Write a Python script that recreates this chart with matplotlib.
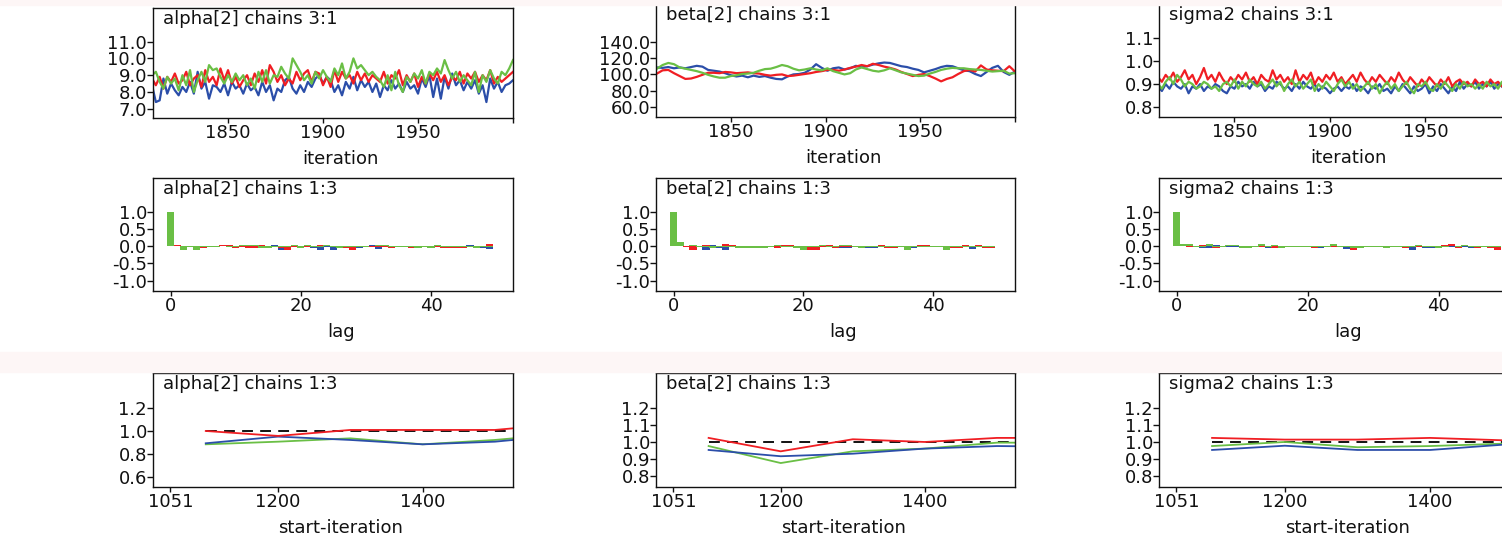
import matplotlib
matplotlib.use("Agg")
import matplotlib.pyplot as plt
from matplotlib.patches import Rectangle
import numpy as np

# colours of the three chains (WinBUGS style)
BLUE = "#2b4ea9"
RED = "#f01e23"
GREEN = "#6abf45"
PINK = "#fdf6f6"
INK = "#111111"

# ---------------- trace data (iterations 1810..2000) ----------------
iter_step2 = np.arange(1810, 2001, 2)
iter_step3 = np.arange(1811, 2001, 3)

alpha_blue = [8.4, 7.4, 7.5, 8.8, 7.9, 8.5, 8.1, 7.8, 8.3, 8.0, 8.6, 7.9,
              9.2, 8.2, 8.6, 7.6, 8.4, 8.3, 8.0, 8.5, 7.8, 8.6, 8.2, 8.4,
              7.9, 8.5, 8.1, 8.3, 7.8, 8.6, 8.0, 8.4, 7.5, 8.2, 8.0, 8.7,
              8.9, 8.2, 7.9, 8.4, 8.0, 8.6, 8.3, 8.8, 9.0, 8.5, 8.9, 8.7,
              8.0, 8.4, 7.8, 8.6, 8.2, 8.9, 8.1, 8.7, 8.3, 8.6, 8.0, 8.5,
              7.7, 8.4, 8.1, 8.7, 8.2, 8.5, 8.0, 8.6, 8.2, 8.4, 7.9, 8.8,
              8.3, 9.0, 7.7, 8.8, 7.6, 8.9, 8.2, 9.1, 8.4, 8.7, 8.1, 8.6,
              8.2, 8.7, 7.9, 8.4, 7.4, 8.8, 8.2, 8.6, 8.0, 8.4, 8.5, 8.7]
alpha_red = [8.8, 8.4, 8.9, 8.2, 8.9, 8.6, 9.1, 8.5, 8.7, 9.2, 8.4, 8.8,
             9.0, 8.3, 9.3, 8.6, 8.9, 8.4, 9.4, 8.7, 9.3, 8.5, 8.9, 8.3,
             8.7, 9.0, 8.4, 9.1, 8.6, 9.3, 8.5, 9.6, 9.2, 8.6, 9.0, 8.4,
             8.8, 8.5, 9.2, 8.7, 9.1, 9.3, 8.6, 9.2, 9.1, 8.4, 8.9, 8.3,
             9.3, 8.6, 9.2, 8.8, 9.0, 8.5, 9.2, 8.7, 9.1, 8.6, 9.0, 8.8,
             8.6, 9.2, 8.5, 9.0, 8.8, 9.3, 8.4, 9.0, 8.6, 9.1, 8.3, 8.9,
             8.5, 9.1, 8.7, 9.2, 8.6, 9.0, 8.4, 8.9, 8.7, 9.2, 8.5, 9.1,
             8.8, 9.2, 8.6, 9.0, 8.7, 9.3, 8.5, 8.9, 8.6, 8.8, 9.0, 9.2]
alpha_green = [9.0, 9.2, 8.6, 8.2, 8.9, 8.5, 8.8, 8.1, 9.0, 8.4, 9.3, 8.0,
               8.7, 9.2, 8.6, 9.6, 9.3, 9.4, 8.9, 8.5, 9.0, 8.6, 9.1, 8.7,
               9.0, 8.4, 8.8, 8.2, 9.2, 8.6, 9.3, 8.5, 9.0, 8.9, 9.5, 9.1,
               8.8, 10.0, 9.6, 9.2, 8.7, 9.0, 8.5, 9.2, 8.8, 9.3, 8.9, 8.6,
               9.4, 9.0, 9.7, 8.8, 9.2, 10.0, 9.4, 9.6, 9.3, 9.0, 9.2, 8.9,
               8.7, 8.3, 9.0, 8.1, 9.2, 8.4, 8.0, 8.9, 8.6, 9.1, 8.8, 9.3,
               8.5, 9.2, 9.0, 9.4, 9.1, 9.9, 9.3, 8.8, 9.2, 8.6, 9.0, 8.7,
               8.4, 9.2, 8.0, 9.0, 8.6, 9.3, 8.8, 8.5, 9.2, 9.0, 9.4, 9.9]

beta_blue = [108.5, 108.0, 109.0, 107.5, 108.5, 107.5, 109.0, 110.5, 109.5, 105.5,
             104.5, 103.5, 101.5, 99.0, 97.5, 98.5, 96.5, 98.5, 97.0, 98.0,
             96.0, 94.5, 94.0, 97.5, 100.0, 100.5, 102.0, 106.0, 112.5, 108.0,
             104.5, 107.5, 108.5, 106.0, 107.5, 110.5, 109.0, 110.0, 112.0, 113.5,
             114.5, 114.0, 112.0, 110.0, 109.0, 107.0, 105.5, 102.5, 104.5, 106.5,
             109.0, 110.5, 110.0, 107.5, 105.0, 104.0, 100.5, 98.0, 103.0, 108.0,
             110.5, 103.0, 99.5, 103.5]
beta_red = [101.0, 105.0, 105.5, 101.5, 98.0, 94.5, 95.0, 97.0, 99.5, 102.0,
            102.0, 101.5, 103.0, 102.5, 101.5, 102.0, 102.5, 101.5, 101.0, 99.5,
            98.5, 99.5, 100.0, 98.0, 98.5, 99.5, 100.5, 101.5, 103.0, 104.0,
            105.5, 105.5, 104.5, 106.0, 108.0, 109.5, 111.5, 110.0, 113.0, 111.5,
            109.5, 108.0, 106.0, 103.0, 100.5, 98.0, 99.5, 100.5, 98.0, 95.0,
            91.5, 94.5, 96.5, 100.5, 104.0, 105.5, 103.5, 111.0, 106.0, 105.0,
            104.5, 104.0, 110.0, 103.5]
beta_green = [107.0, 111.5, 114.0, 112.5, 108.5, 107.0, 105.5, 104.0, 102.0, 99.5,
              97.5, 96.0, 96.0, 98.0, 99.0, 100.5, 101.0, 102.0, 104.5, 106.5,
              107.0, 109.0, 111.5, 110.0, 107.0, 105.0, 106.0, 107.5, 106.0, 105.0,
              107.5, 104.0, 102.0, 100.0, 101.5, 106.0, 108.5, 106.5, 104.5, 103.5,
              105.0, 107.5, 105.0, 102.5, 101.0, 99.5, 98.0, 98.5, 101.0, 103.0,
              105.5, 107.0, 108.0, 107.5, 107.5, 106.5, 106.0, 105.5, 104.5, 103.5,
              104.0, 104.5, 101.0, 101.5]

sigma_red = [0.93, 0.91, 0.94, 0.92, 0.95, 0.91, 0.93, 0.96, 0.92, 0.94, 0.90, 0.93,
             0.97, 0.92, 0.94, 0.91, 0.95, 0.92, 0.90, 0.93, 0.91, 0.94, 0.92, 0.95,
             0.91, 0.93, 0.90, 0.94, 0.92, 0.91, 0.96, 0.92, 0.94, 0.91, 0.93, 0.90,
             0.96, 0.91, 0.94, 0.92, 0.95, 0.90, 0.93, 0.91, 0.94, 0.92, 0.95, 0.91,
             0.93, 0.90, 0.92, 0.94, 0.91, 0.95, 0.92, 0.90, 0.93, 0.91, 0.94, 0.92,
             0.90, 0.93, 0.91, 0.95, 0.92, 0.90, 0.93, 0.91, 0.89, 0.92, 0.90, 0.93,
             0.91, 0.89, 0.92, 0.90, 0.93, 0.89, 0.91, 0.92, 0.90, 0.91, 0.89, 0.92,
             0.90, 0.91, 0.89, 0.92, 0.90, 0.91, 0.89, 0.92, 0.90, 0.91, 0.90, 0.90]
sigma_blue = [0.89, 0.87, 0.90, 0.88, 0.91, 0.89, 0.88, 0.90, 0.86, 0.89, 0.88, 0.90,
              0.87, 0.89, 0.88, 0.90, 0.89, 0.87, 0.86, 0.89, 0.88, 0.91, 0.89, 0.90,
              0.88, 0.91, 0.89, 0.90, 0.87, 0.89, 0.88, 0.91, 0.90, 0.88, 0.89, 0.87,
              0.90, 0.88, 0.91, 0.89, 0.88, 0.90, 0.87, 0.89, 0.88, 0.86, 0.88, 0.89,
              0.87, 0.89, 0.88, 0.90, 0.87, 0.89, 0.88, 0.86, 0.89, 0.88, 0.90, 0.87,
              0.88, 0.86, 0.89, 0.87, 0.90, 0.88, 0.86, 0.89, 0.87, 0.88, 0.90, 0.86,
              0.89, 0.87, 0.90, 0.88, 0.86, 0.89, 0.87, 0.91, 0.88, 0.90, 0.89, 0.91,
              0.88, 0.90, 0.89, 0.91, 0.88, 0.90, 0.89, 0.87, 0.90, 0.89, 0.91, 0.89]
sigma_green = [0.90, 0.88, 0.91, 0.93, 0.90, 0.94, 0.92, 0.89, 0.91, 0.90, 0.88, 0.89,
               0.91, 0.90, 0.88, 0.89, 0.87, 0.90, 0.91, 0.89, 0.92, 0.88, 0.91, 0.89,
               0.92, 0.90, 0.89, 0.91, 0.88, 0.90, 0.92, 0.89, 0.91, 0.87, 0.90, 0.92,
               0.89, 0.91, 0.88, 0.90, 0.92, 0.87, 0.90, 0.88, 0.91, 0.89, 0.87, 0.90,
               0.92, 0.89, 0.91, 0.88, 0.90, 0.87, 0.89, 0.91, 0.88, 0.90, 0.86, 0.89,
               0.91, 0.88, 0.90, 0.87, 0.89, 0.91, 0.88, 0.86, 0.90, 0.89, 0.91, 0.88,
               0.87, 0.90, 0.88, 0.91, 0.89, 0.87, 0.90, 0.88, 0.91, 0.89, 0.90, 0.88,
               0.90, 0.88, 0.91, 0.89, 0.90, 0.88, 0.91, 0.90, 0.89, 0.91, 0.88, 0.90]

# ---------------- autocorrelation (lags 0..49) ----------------
lags = np.arange(0, 50)

alpha_acf_blue = [1.0,
                  0.02, 0.02, 0.02, -0.03, -0.03, -0.02, 0.02, 0.01, 0.02, -0.02,
                  -0.03, -0.03, 0.02, -0.02, 0.02, 0.03, -0.10, -0.03, 0.02, 0.02,
                  -0.02, -0.04, -0.11, -0.02, -0.12, -0.03, -0.02, -0.02, -0.04, 0.01,
                  0.03, -0.07, 0.02, -0.03, -0.02, -0.03, -0.02, 0.01, -0.02, -0.03,
                  0.01, -0.03, -0.02, -0.03, -0.04, 0.03, -0.02, -0.06, -0.07]
alpha_acf_red = [1.0,
                 0.03, -0.03, 0.02, -0.02, -0.05, -0.02, -0.02, 0.03, 0.03, -0.04,
                 -0.02, -0.04, -0.04, 0.03, -0.02, -0.03, -0.05, -0.12, -0.02, -0.03,
                 -0.02, 0.02, 0.03, 0.02, -0.02, -0.03, -0.05, -0.12, -0.02, 0.02,
                 -0.02, -0.03, -0.02, -0.04, -0.03, -0.02, -0.04, -0.03, -0.02, -0.03,
                 -0.02, -0.04, -0.04, -0.04, -0.04, -0.02, -0.03, -0.03, 0.07]
alpha_acf_green = [1.0,
                   0.02, -0.10, -0.02, -0.12, -0.03, -0.03, -0.03, 0.02, -0.03, -0.02,
                   0.03, 0.03, 0.03, -0.04, -0.04, -0.02, -0.03, -0.02, 0.03, -0.06,
                   0.03, -0.03, -0.02, 0.03, -0.03, -0.04, -0.03, -0.02, -0.03, -0.02,
                   0.02, 0.03, 0.03, -0.02, -0.03, -0.03, -0.02, -0.04, -0.02, -0.04,
                   0.03, -0.02, -0.03, -0.02, -0.03, -0.03, -0.04, -0.03, -0.02]

beta_acf_blue = [1.0,
                 0.03, 0.02, -0.02, -0.03, -0.10, 0.03, -0.04, -0.10, 0.02, -0.03,
                 -0.02, -0.03, -0.03, -0.04, -0.03, -0.03, 0.03, -0.02, -0.03, -0.04,
                 -0.10, -0.05, -0.02, 0.03, -0.04, -0.05, -0.05, -0.02, -0.03, -0.05,
                 -0.05, -0.02, -0.03, -0.04, -0.02, -0.03, -0.05, -0.02, -0.03, -0.02,
                 -0.03, -0.02, -0.05, -0.05, -0.02, -0.07, 0.04, -0.02, -0.03]
beta_acf_red = [1.0,
                0.06, -0.02, -0.10, -0.02, 0.03, -0.02, -0.03, 0.07, 0.04, -0.04,
                -0.04, -0.04, -0.04, -0.04, -0.03, -0.04, 0.04, 0.04, -0.03, -0.03,
                -0.11, -0.11, -0.02, 0.03, -0.04, -0.03, -0.02, 0.02, -0.03, -0.03,
                -0.03, 0.04, -0.05, -0.05, -0.02, -0.03, -0.02, 0.04, 0.04, -0.03,
                -0.03, -0.02, -0.04, -0.04, 0.04, -0.03, 0.04, -0.05, -0.05]
beta_acf_green = [1.0,
                  0.13, 0.02, 0.03, -0.03, -0.02, -0.05, -0.03, -0.02, -0.03, -0.05,
                  -0.05, -0.05, -0.05, -0.05, -0.03, 0.04, -0.02, -0.03, -0.04, -0.10,
                  -0.03, -0.02, 0.03, -0.02, -0.02, 0.04, 0.04, -0.02, -0.05, -0.02,
                  -0.03, -0.02, -0.03, -0.02, -0.03, -0.12, -0.03, -0.02, -0.02, -0.03,
                  -0.03, -0.10, -0.02, -0.03, -0.02, -0.03, -0.02, -0.02, -0.03]

sigma_acf_blue = [1.0,
                  0.03, 0.03, 0.02, -0.05, -0.05, 0.03, -0.02, -0.03, -0.03, 0.02,
                  0.02, 0.02, 0.02, -0.05, -0.02, -0.03, 0.02, -0.02, -0.03, -0.02,
                  -0.04, -0.04, -0.02, -0.03, -0.03, -0.08, -0.03, -0.02, -0.03, -0.02,
                  0.02, -0.03, 0.02, 0.02, -0.03, -0.10, -0.02, -0.04, -0.04, -0.02,
                  -0.02, -0.03, 0.02, -0.02, -0.05, -0.03, 0.02, -0.02, -0.04]
sigma_acf_red = [1.0,
                 0.04, -0.02, -0.03, 0.03, 0.03, -0.04, -0.02, 0.02, 0.02, -0.02,
                 -0.02, -0.02, -0.02, -0.03, -0.05, -0.04, 0.02, -0.02, -0.03, -0.03,
                 -0.04, -0.02, -0.03, -0.02, -0.03, -0.03, -0.10, -0.03, -0.02, 0.02,
                 -0.02, -0.03, -0.02, -0.03, -0.05, -0.03, -0.02, -0.03, -0.02, -0.02,
                 0.03, 0.06, -0.04, 0.03, -0.03, -0.05, -0.02, -0.04, -0.10]
sigma_acf_green = [1.0,
                   0.05, 0.06, -0.02, -0.02, 0.05, -0.02, -0.03, 0.03, 0.03, -0.04,
                   -0.04, -0.02, 0.05, -0.02, 0.03, -0.04, -0.02, -0.03, -0.03, -0.03,
                   -0.02, -0.02, -0.02, 0.06, -0.02, -0.03, -0.04, -0.04, -0.02, -0.02,
                   -0.03, -0.05, -0.02, -0.02, -0.02, -0.03, 0.03, -0.02, -0.02, -0.04,
                   -0.02, 0.02, -0.02, 0.04, -0.02, -0.03, -0.02, -0.03, -0.02]

# ---------------- Brooks-Gelman-Rubin ----------------
bgr_iter = [1100, 1200, 1300, 1400, 1500, 1525]

alpha_bgr_red = [1.00, 0.957, 1.009, 1.009, 1.009, 1.023]
alpha_bgr_blue = [0.893, 0.951, 0.922, 0.884, 0.907, 0.922]
alpha_bgr_green = [0.884, 0.907, 0.936, 0.884, 0.922, 0.936]

beta_bgr_red = [1.024, 0.945, 1.016, 1.000, 1.024, 1.024]
beta_bgr_blue = [0.953, 0.916, 0.931, 0.961, 0.976, 0.975]
beta_bgr_green = [0.976, 0.876, 0.945, 0.961, 0.996, 0.996]

sigma_bgr_red = [1.024, 1.014, 1.014, 1.024, 1.010, 1.008]
sigma_bgr_blue = [0.953, 0.978, 0.953, 0.953, 0.984, 0.986]
sigma_bgr_green = [0.976, 1.000, 0.969, 0.976, 0.990, 0.992]

names = ["alpha[2]", "beta[2]", "sigma2"]

trace_ticks = [[7.0, 8.0, 9.0, 10.0, 11.0],
               [60.0, 80.0, 100.0, 120.0, 140.0],
               [0.8, 0.9, 1.0, 1.1]]
trace_ylim = [(6.45, 13.0), (48.0, 186.0), (0.757, 1.248)]
bgr_ticks = [[0.6, 0.8, 1.0, 1.2],
             [0.8, 0.9, 1.0, 1.1, 1.2],
             [0.8, 0.9, 1.0, 1.1, 1.2]]
bgr_ylim = [(0.513, 1.504), (0.735, 1.406), (0.735, 1.406)]
acf_ticks = [-1.0, -0.5, 0.0, 0.5, 1.0]

# ---------------- layout (pixels) ----------------
W, H = 1502, 536
fig = plt.figure(figsize=(W / 100, H / 100), dpi=100)
fig.patch.set_facecolor("white")
plt.rcParams["font.family"] = ["DejaVu Sans"]
FS = 13

fig.patches.append(Rectangle((0, 1 - 5 / H), 1, 5 / H, transform=fig.transFigure,
                             color=PINK, zorder=0))
fig.patches.append(Rectangle((0, 1 - 372 / H), 1, 20 / H, transform=fig.transFigure,
                             color=PINK, zorder=0))

lefts = [(153, 513), (656, 1015), (1159, 1521)]
row_tb = [[(8, 118), (4, 117), (4, 117)],
          [(178, 291), (178, 291), (178, 291)],
          [(373, 487), (373, 487), (373, 487)]]


def make_ax(col, row):
    l, r = lefts[col]
    t, b = row_tb[row][col]
    ax = fig.add_axes([l / W, 1 - b / H, (r - l) / W, (b - t) / H])
    for s in ax.spines.values():
        s.set_linewidth(1.0)
        s.set_color(INK)
    ax.tick_params(axis="y", direction="out", length=4.3, pad=0, width=1.0,
                   colors=INK, labelsize=FS)
    ax.tick_params(axis="x", direction="out", length=3.6, pad=1.0, width=1.0,
                   colors=INK, labelsize=FS)
    return ax, b - t


def finish(ax, h, title, xlabel):
    ax.annotate(title, xy=(0, 1), xycoords="axes fraction", xytext=(10, -11),
                textcoords="offset pixels", ha="left", va="center",
                fontsize=FS, color=INK)
    ax.set_xlabel(xlabel, fontsize=FS, color=INK)
    ax.xaxis.set_label_coords(0.522, -41 / h)
    ax.xaxis.label.set_verticalalignment("center")


traces = [(alpha_blue, alpha_red, alpha_green, iter_step2),
          (beta_blue, beta_red, beta_green, iter_step3),
          (sigma_blue, sigma_red, sigma_green, iter_step2)]
acfs = [(alpha_acf_blue, alpha_acf_red, alpha_acf_green),
        (beta_acf_blue, beta_acf_red, beta_acf_green),
        (sigma_acf_blue, sigma_acf_red, sigma_acf_green)]
bgrs = [(alpha_bgr_blue, alpha_bgr_red, alpha_bgr_green),
        (beta_bgr_blue, beta_bgr_red, beta_bgr_green),
        (sigma_bgr_blue, sigma_bgr_red, sigma_bgr_green)]

for i, name in enumerate(names):
    # trace
    ax, h = make_ax(i, 0)
    b, r, g, it = traces[i]
    for vals, c in ((b, BLUE), (r, RED), (g, GREEN)):
        ax.plot(it, vals, color=c, lw=1.6)
    ax.set_xlim(1810.5, 2000)
    ax.set_ylim(*trace_ylim[i])
    ax.set_yticks(trace_ticks[i])
    ax.set_yticklabels(["%.1f" % v for v in trace_ticks[i]])
    ax.set_xticks([1850, 1900, 1950, 2000])
    ax.set_xticklabels(["1850", "1900", "1950", ""])
    finish(ax, h, name + " chains 3:1", "iteration")

    # autocorrelation
    ax, h = make_ax(i, 1)
    for vals, c in zip(acfs[i], (BLUE, RED, GREEN)):
        ax.bar(lags, vals, width=1.1, color=c, linewidth=0)
    ax.set_xlim(-2.7, 52.6)
    ax.set_ylim(-1.3, 1.98)
    ax.set_yticks(acf_ticks)
    ax.set_yticklabels(["%.1f" % v for v in acf_ticks])
    ax.set_xticks([0, 20, 40])
    ax.set_xticklabels(["0", "20", "40"])
    finish(ax, h, name + " chains 1:3", "lag")

    # BGR
    ax, h = make_ax(i, 2)
    ax.plot([bgr_iter[0], bgr_iter[-1]], [1.0, 1.0], color="black", lw=1.3,
            ls=(0, (6, 4)))
    b, r, g = bgrs[i]
    ax.plot(bgr_iter, g, color=GREEN, lw=1.3)
    ax.plot(bgr_iter, b, color=BLUE, lw=1.3)
    ax.plot(bgr_iter, r, color=RED, lw=1.3)
    ax.set_xlim(1027, 1525)
    ax.set_ylim(*bgr_ylim[i])
    ax.set_yticks(bgr_ticks[i])
    ax.set_yticklabels(["%.1f" % v for v in bgr_ticks[i]])
    ax.set_xticks([1051, 1200, 1400])
    ax.set_xticklabels(["1051", "1200", "1400"])
    finish(ax, h, name + " chains 1:3", "start-iteration")

fig.savefig("out.png", dpi=100, facecolor="white")
